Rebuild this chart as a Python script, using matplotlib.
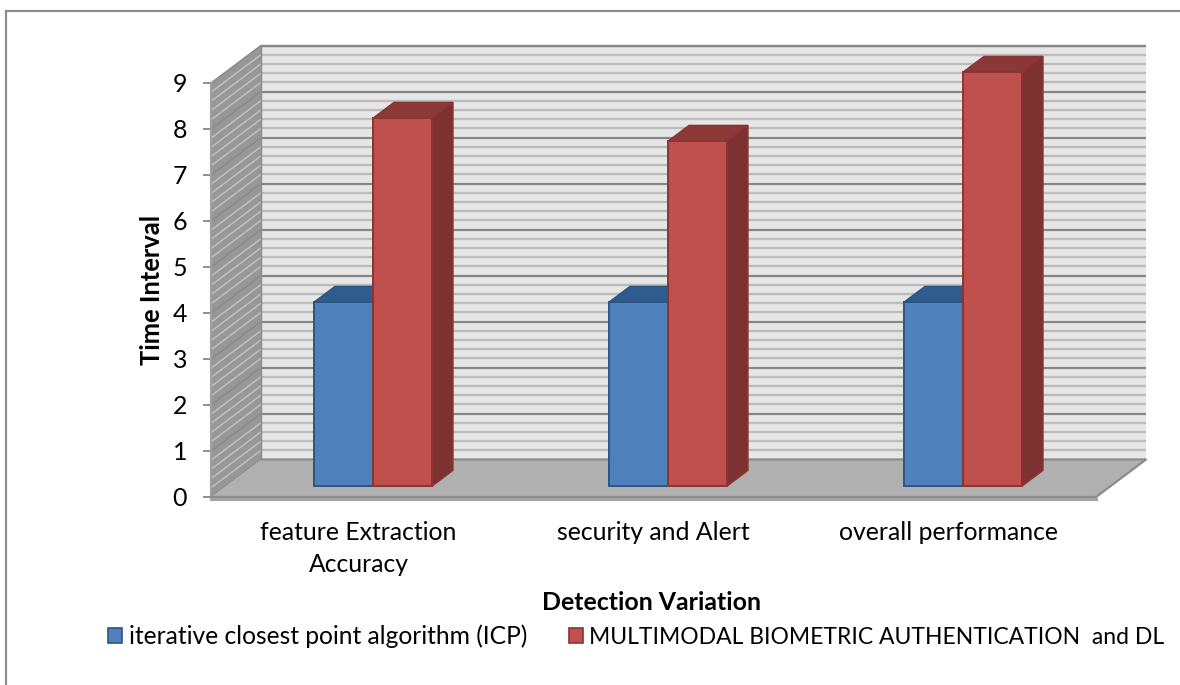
import numpy as np
import matplotlib
matplotlib.use("Agg")
import matplotlib.pyplot as plt
from matplotlib.lines import Line2D
from matplotlib.patches import Polygon, Rectangle

categories = ["feature Extraction\nAccuracy", "security and Alert", "overall performance"]
icp_values = [4, 4, 4]
mmba_values = [8, 7.5, 9]
series_names = ["iterative closest point algorithm (ICP)",
                "MULTIMODAL BIOMETRIC AUTHENTICATION  and DL"]
y_ticks = list(range(10))
x_title = "Detection Variation"
y_title = "Time Interval"

W, H = 1180, 685
plt.rcParams['font.family'] = ['Lato', 'DejaVu Sans']
fig = plt.figure(figsize=(W / 100, H / 100), dpi=100, facecolor='white')

# front plane of the 3-D box, in pixels
L, R, B, T = 211, 1096, 497, 83
ax = fig.add_axes([L / W, 1 - B / H, (R - L) / W, (B - T) / H])
ax.set_xlim(0, 3)
ax.set_ylim(0, 9)
ax.patch.set_visible(False)
for s in ax.spines.values():
    s.set_visible(False)

ux = (R - L) / 3      # pixels per category
uy = (B - T) / 9      # pixels per value unit
DX = 50 / ux          # full depth of the box in data units
DY = 37.5 / uy


def prj(x, y, d):
    """Project a point with depth d (0 front .. 1 back) onto the axes."""
    return (x + d * DX, y + d * DY)


def quad(pts, **kw):
    p = Polygon(pts, closed=True, clip_on=False, **kw)
    ax.add_patch(p)
    return p


# back wall and side wall
quad([prj(0, 0, 1), prj(3, 0, 1), prj(3, 9, 1), prj(0, 9, 1)], fc='#e6e6e6', ec='none', zorder=1)
quad([prj(0, 0, 0), prj(0, 0, 1), prj(0, 9, 1), prj(0, 9, 0)], fc='#979797', ec='none', zorder=1)

# grid
for v in np.arange(0, 9.01, 0.2):
    major = abs(v - round(v)) < 1e-6
    xs, ys = zip(prj(0, v, 1), prj(3, v, 1))
    ax.plot(xs, ys, color='#868686' if major else '#bcbcbc', lw=1.6 if major else 1.7,
            clip_on=False, zorder=2, solid_capstyle='butt')
    xs, ys = zip(prj(0, v, 0), prj(0, v, 1))
    ax.plot(xs, ys, color='#8a8a8a' if major else '#c0c0c0', lw=1.1,
            clip_on=False, zorder=2, solid_capstyle='butt')
xs, ys = zip(prj(0, 0, 0), prj(0, 9, 0))
ax.plot(xs, ys, color='#a0a0a0', lw=1.5, clip_on=False, zorder=3)
xs, ys = zip(prj(0, 0, 1), prj(0, 9, 1))
ax.plot(xs, ys, color='#8c8c8c', lw=1.0, clip_on=False, zorder=3)
xs, ys = zip(prj(0, 9, 1), prj(3, 9, 1))
ax.plot(xs, ys, color='#868686', lw=1.6, ls=(0, (1, 0.3)), clip_on=False, zorder=3)

# floor
quad([prj(0, 0, 0), prj(3, 0, 0), prj(3, 0, 1), prj(0, 0, 1)], fc='#b0b0b0', ec='none', zorder=4)
xs, ys = zip(prj(0, 0, 1), prj(3, 0, 1), prj(3, 0, 0), prj(0, 0, 0))
ax.plot(xs, ys, color='#8c8c8c', lw=1.6, clip_on=False, zorder=4)
ax.plot([0, 3], [-2.0 / uy, -2.0 / uy], color='#a4a4a4', lw=2.2, clip_on=False, zorder=4)

# bars
BAR_W = 59 / ux
D0, D1 = 0.29, 0.71
palette = [('#4f81bd', '#2f5b8f', '#376092', '#2d5482'),
           ('#c0504d', '#8c3836', '#7d3130', '#8a3533')]
centers = np.arange(len(categories)) + 0.5
for k, vals in enumerate([icp_values, mmba_values]):
    face, top, side, edge = palette[k]
    for c, v in zip(centers, vals):
        x0 = c + (k - 1) * BAR_W
        x1 = x0 + BAR_W
        z = 10 + k
        quad([prj(x0, v, D0), prj(x1, v, D0), prj(x1, v, D1), prj(x0, v, D1)],
             fc=top, ec=edge, lw=1, zorder=z)
        quad([prj(x1, 0, D0), prj(x1, 0, D1), prj(x1, v, D1), prj(x1, v, D0)],
             fc=side, ec=edge, lw=1, zorder=z)
        ax.bar(x0 + D0 * DX, v, width=BAR_W, bottom=D0 * DY, align='edge',
               color=face, edgecolor=edge, linewidth=1.4, zorder=z + 0.5, clip_on=False)

# axes text
ax.set_yticks(y_ticks)
ax.set_yticklabels([str(t) for t in y_ticks])
ax.tick_params(axis='y', length=5.8, width=1.3, color='#868686', labelsize=18, pad=11.5)
ax.set_xticks(centers)
ax.set_xticklabels(categories, linespacing=1.5)
ax.tick_params(axis='x', length=0, labelsize=17.8, pad=17.2)

to_ax = ax.transAxes.inverted()


def pix(x, y):
    return to_ax.transform(fig.transFigure.transform((x / W, 1 - y / H)))


ax.set_ylabel(y_title, fontsize=18.4, fontweight='bold')
ax.yaxis.set_label_coords(*pix(164, 290))
ax.set_xlabel(x_title, fontsize=17.9, fontweight='bold', va='center')
ax.xaxis.set_label_coords(*pix(652, 603))

# legend
handles = [Rectangle((0, 0), 1, 1, fc=palette[0][0], ec=palette[0][3], lw=1.2),
           Rectangle((0, 0), 1, 1, fc=palette[1][0], ec=palette[1][3], lw=1.2)]
leg = fig.legend(handles, series_names, ncol=2, frameon=False, fontsize=17.7,
                 loc='center left', bbox_to_anchor=(108 / W, 1 - 636 / H),
                 handlelength=0.57, handleheight=0.57, handletextpad=0.28,
                 columnspacing=1.68, borderpad=0, borderaxespad=0)
leg.get_texts()[1].set_fontsize(16.5)

# chart-area frame: only its top and left edges fall inside the picture
fig.add_artist(Line2D([6 / W, 6 / W, 1], [0, 1 - 11 / H, 1 - 11 / H],
                      transform=fig.transFigure, color='#8c8c8c', lw=1.6,
                      solid_joinstyle='miter'))

fig.savefig('out.png', dpi=100, facecolor='white')
